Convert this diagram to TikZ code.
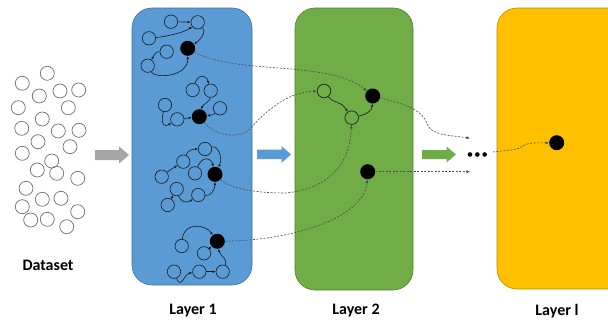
\documentclass[tikz,border=0pt]{standalone}
\usepackage{fontspec}
\setmainfont{Carlito}
\usetikzlibrary{arrows.meta}
\definecolor{lblue}{HTML}{5B9BD5}
\definecolor{lbluedk}{HTML}{41719C}
\definecolor{lgreen}{HTML}{70AD47}
\definecolor{lgreendk}{HTML}{507E32}
\definecolor{lyellow}{HTML}{FFC000}
\definecolor{lyellowdk}{HTML}{BC8C00}
\definecolor{agray}{HTML}{A5A5A5}
\definecolor{dsgray}{HTML}{6F6F6F}
\tikzset{
  dsc/.style={circle, draw=dsgray, line width=0.7pt, minimum size=14pt, inner sep=0pt},
  oc/.style={circle, draw=black!90, line width=0.6pt, minimum size=13.4pt, inner sep=0pt},
  oc2/.style={circle, draw=black!85, line width=0.75pt, minimum size=13.6pt, inner sep=0pt},
  bn/.style={circle, fill=black, minimum size=15pt, inner sep=0pt},
  ed/.style={line width=0.6pt, draw=black!90, -{Latex[length=3pt,width=2.6pt]}},
  dl/.style={line width=0.6pt, draw=black!70, dash pattern=on 2pt off 1.5pt, -{Latex[length=3.5pt,width=3pt]}},
  lbl/.style={font=\bfseries\fontsize{16}{18}\selectfont, inner sep=0pt},
  dotn/.style={circle, fill=black, minimum size=4.6pt, inner sep=0pt},
}
\begin{document}
\begin{tikzpicture}[x=1pt,y=-1pt]
\useasboundingbox (0,0) rectangle (608,324);
\clip (0,0) rectangle (608,324);
\fill[white] (0,0) rectangle (608,324);

% layer boxes
\draw[fill=lblue, draw=lbluedk, line width=0.6pt, rounded corners=20pt] (132,8) rectangle (252,285);
\draw[fill=lgreen, draw=lgreendk, line width=0.6pt, rounded corners=20pt] (295,8) rectangle (413,290);
\draw[fill=lyellow, draw=lyellowdk, line width=0.6pt, rounded corners=20pt] (497,8) rectangle (640,289);

% block arrows
\fill[agray] (95,150) -- (119,150) -- (119,146.5) -- (129,155) -- (119,163.5) -- (119,160) -- (95,160) -- cycle;
\fill[lblue] (257,149.5) -- (281.5,149.5) -- (281.5,146) -- (291,154.5) -- (281.5,163) -- (281.5,159) -- (257,159) -- cycle;
\fill[lgreen] (422,150) -- (446.5,150) -- (446.5,146.5) -- (456,154.5) -- (446.5,162.5) -- (446.5,159) -- (422,159) -- cycle;

% dataset circles
\foreach \p [count=\i] in {(47.3,73.3),(22.3,83.3),(39.3,96),(60,91),(78.7,90),(18.3,107.7),(68.3,107.7),(42.3,119),(21.7,128.3),(58.3,131),(79,130.3),(38,141.7),(70,146.7),(22.3,153.3),(51.7,161),(37.3,170),(56.7,173.3),(77.7,178.3),(26,188.3),(42.3,199.3),(61,198.3),(22.3,206.7),(77.7,211.7),(30.7,220),(47.3,219.3),(66.7,226.7)}
  \node[dsc] (ds\i) at \p {};

% cluster 1
\node[oc] (a1) at (171,21.7) {};
\node[oc] (a2) at (197.7,22.3) {};
\node[oc] (a3) at (149,38.3) {};
\node[oc] (a4) at (166.7,51.7) {};
\node[oc] (a5) at (147.7,65.7) {};
\node[bn] (b1) at (187.7,48.3) {};
\draw[ed] (a1) -- (a2);
\draw[ed] (a3) .. controls (170,36) and (185,32) .. (a2);
\draw[ed] (a2) .. controls (207,32) and (200,40) .. (b1);
\draw[ed] (a5) .. controls (155,79) and (188,77) .. (b1);
\draw[ed] (a4) .. controls (156,52) .. (a5);

% cluster 2
\node[oc] (c1) at (192.7,90) {};
\node[oc] (c2) at (210.7,90.7) {};
\node[oc] (c3) at (165,105) {};
\node[oc] (c4) at (177.3,119.3) {};
\node[oc] (c5) at (220,108.3) {};
\node[bn] (b2) at (199.3,116.7) {};
\draw[ed] (c1) .. controls (198,74) and (206,74) .. (c2);
\draw[ed] (c2) .. controls (210,102) and (203,104) .. (b2);
\draw[ed] (c5) .. controls (213,115) .. (b2);
\draw[ed] (c3) .. controls (160,126) and (165,127) .. (c4);
\draw[ed] (c4) -- (b2);

% cluster 3
\node[oc] (d1) at (205,149) {};
\node[oc] (d2) at (183.3,161.7) {};
\node[oc] (d3) at (161.7,176.7) {};
\node[oc] (d4) at (195,173.3) {};
\node[oc] (d5) at (176.7,189) {};
\node[oc] (d6) at (198.3,195) {};
\node[oc] (d7) at (167.7,205) {};
\node[bn] (b3) at (215,174.3) {};
\draw[ed] (d2) .. controls (188,150) and (193,149) .. (d1);
\draw[ed] (d1) .. controls (218,145) and (223,158) .. (b3);
\draw[ed] (d3) .. controls (170,170) .. (d2);
\draw[ed] (d4) .. controls (202,156) and (211,157) .. (b3);
\draw[ed] (d6) .. controls (211,196) and (215,190) .. (b3);
\draw[ed] (d5) .. controls (180,201) and (186,204) .. (d6);
\draw[ed] (d7) -- (d5);

% cluster 4
\node[oc] (e1) at (181.7,246) {};
\node[oc] (e2) at (204,253.3) {};
\node[oc] (e3) at (174,271.7) {};
\node[oc] (e4) at (199.3,271.7) {};
\node[oc] (e5) at (222.7,271.7) {};
\node[bn] (b4) at (217.3,241.3) {};
\draw[ed] (e1) .. controls (184,222) and (205,224) .. (b4);
\draw[ed] (e2) -- (b4);
\draw[ed] (e5) .. controls (228,258) and (220,256) .. (b4);
\draw[ed] (e3) .. controls (181,290) and (184,274) .. (e4);
\draw[ed] (e4) -- (e5);

% layer 2
\node[oc2] (A) at (324,91) {};
\node[oc2] (B) at (351.7,117.7) {};
\node[bn] (C) at (372.7,96) {};
\node[bn] (D) at (367.7,171.7) {};
\draw[ed] (A) .. controls (334,104) and (340,100) .. (B);
\draw[ed] (B) .. controls (368,114) and (372,110) .. (C);

% dots and layer l node
\node[dotn] (p1) at (470,154.5) {};
\node[dotn] (p2) at (477.3,154.5) {};
\node[dotn] (p3) at (484.7,154.5) {};
\node[bn] (Y) at (556.7,142.7) {};

\coordinate (t1) at (470,138.3);
\coordinate (t2) at (470,171.7);
\coordinate (s1) at (493,152);

% dashed connectors
\draw[dl] (b1) .. controls (235,75) and (330,60) .. (C);
\draw[dl] (b2) .. controls (215,135) and (235,139) .. (248,131) .. controls (258,120) and (282,92) .. (A);
\draw[dl] (b3) .. controls (228,187) and (250,193) .. (285,193) .. controls (322,190) and (350,170) .. (B);
\draw[dl] (b4) .. controls (300,240) and (365,215) .. (D);
\draw[dl] (C) .. controls (400,103) and (422,108) .. (427,124) .. controls (432,136) and (450,135) .. (t1);
\draw[dl] (D) -- (t2);
\draw[dl] (s1) .. controls (510,150) and (518,150) .. (523,146) .. controls (528,142) and (540,143) .. (Y);

% labels
\node[lbl] (lds) at (48,265) {Dataset};
\node[lbl] (ll1) at (193,311) {Layer 1};
\node[lbl] (ll2) at (356,311) {Layer 2};
\node[lbl] (lll) at (557,311) {Layer l};
\end{tikzpicture}
\end{document}
